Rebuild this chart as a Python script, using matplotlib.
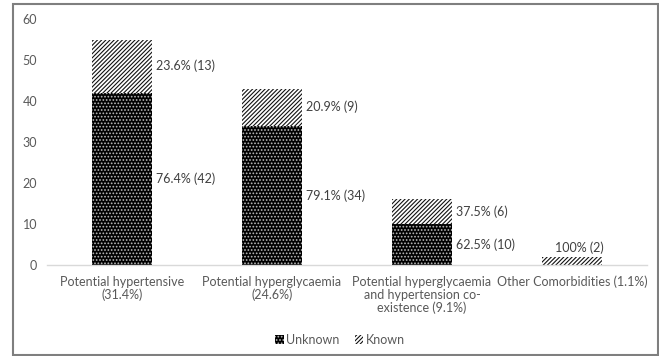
import matplotlib
matplotlib.use("Agg")
import matplotlib.pyplot as plt
from matplotlib.patches import Rectangle, Patch
from matplotlib.transforms import blended_transform_factory, offset_copy

categories = ["Potential hypertensive\n(31.4%)",
              "Potential hyperglycaemia\n(24.6%)",
              "Potential hyperglycaemia\nand hypertension co-\nexistence (9.1%)",
              "Other Comorbidities (1.1%)"]
unknown = [42, 34, 10, 0]
known = [13, 9, 6, 2]
unknown_labels = ["76.4% (42)", "79.1% (34)", "62.5% (10)", ""]
known_labels = ["23.6% (13)", "20.9% (9)", "37.5% (6)", "100% (2)"]
yticks = [0, 10, 20, 30, 40, 50, 60]

plt.rcParams['font.family'] = 'Lato'
plt.rcParams['hatch.linewidth'] = 0.8
txt = '#595959'
DOTS = '.....'
LINES = '////////'

fig = plt.figure(figsize=(6.59, 3.56), dpi=100)
ax = fig.add_axes([47/659, 1-265/356, 600/659, (265-19)/356])

x = list(range(len(categories)))
w = 0.4
ax.bar(x, unknown, width=w, color='black', edgecolor='#bbbbbb', hatch=DOTS, linewidth=0)
ax.bar(x, known, width=w, bottom=unknown, color='white', edgecolor='#111111', hatch=LINES, linewidth=0)

for i in range(len(categories)):
    if unknown[i] > 0:
        ax.text(x[i] + w/2 + 0.03, unknown[i]/2, unknown_labels[i], ha='left', va='center', fontsize=9, color='#404040')
        ax.text(x[i] + w/2 + 0.03, unknown[i] + known[i]/2, known_labels[i], ha='left', va='center', fontsize=9, color='#404040')
    else:
        ax.text(x[i] + 0.05, known[i] + 0.8, known_labels[i], ha='center', va='bottom', fontsize=9, color='#404040')

ax.set_xlim(-0.5, 3.5)
ax.set_ylim(0, 60)
ax.set_yticks(yticks)
ax.set_xticks(x)
ax.set_xticklabels([])
base = blended_transform_factory(ax.transData, ax.transAxes)
for i, c in enumerate(categories):
    for j, line in enumerate(c.split('\n')):
        tr = offset_copy(base, fig=fig, y=-(12 + 9.4 * j), units='points')
        ax.text(x[i], 0, line, transform=tr, ha='center', va='center', fontsize=9, color=txt)
ax.tick_params(axis='y', length=0, pad=7, labelsize=9, labelcolor=txt)
ax.tick_params(axis='x', length=0)
for s in ['top', 'right', 'left']:
    ax.spines[s].set_visible(False)
ax.spines['bottom'].set_color('#d9d9d9')
ax.spines['bottom'].set_linewidth(1.0)

handles = [Patch(facecolor='black', edgecolor='#bbbbbb', hatch=DOTS, linewidth=0, label='Unknown'),
           Patch(facecolor='white', edgecolor='#111111', hatch=LINES, linewidth=0, label='Known')]
leg = fig.legend(handles=handles, loc='center', bbox_to_anchor=(340/659, 1-340/356), ncol=2,
                 frameon=False, fontsize=9, handlelength=0.7, handleheight=0.7,
                 handletextpad=0.2, columnspacing=1.2)
for t in leg.get_texts():
    t.set_color(txt)

fig.patches.append(Rectangle((13/659, 1-355/356), 645/659, 351/356, transform=fig.transFigure,
                             fill=False, edgecolor='#7f7f7f', linewidth=1.5))

fig.savefig('out.png', dpi=100)
